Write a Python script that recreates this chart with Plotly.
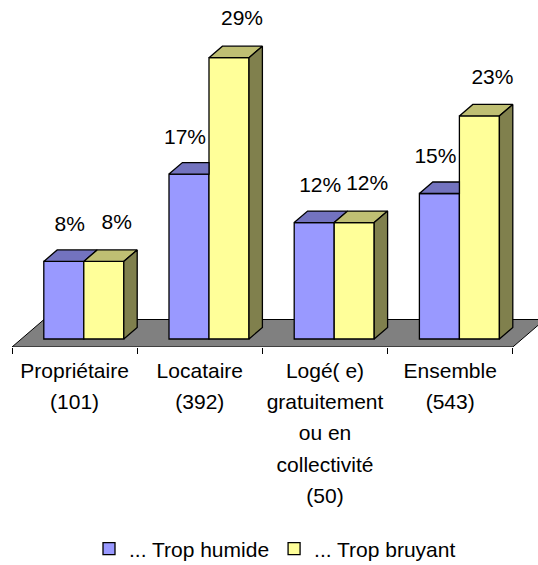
import plotly.graph_objects as go

# ---- data -------------------------------------------------------------
category_lines = [
    ["Propriétaire", "(101)"],
    ["Locataire", "(392)"],
    ["Logé( e)", "gratuitement", "ou en", "collectivité", "(50)"],
    ["Ensemble", "(543)"],
]
humide = [8, 17, 12, 15]
bruyant = [8, 29, 12, 23]
series_names = ["... Trop humide", "... Trop bruyant"]

# ---- colours (front, top, side) ---------------------------------------
BLUE = ("#9999FF", "#7373BF", "#4D4D80")
YELLOW = ("#FFFF99", "#BFBF73", "#80804D")
FLOOR = "#808080"
FONT = "Arial, Liberation Sans, sans-serif"

# ---- pseudo-3D geometry (axis units) ------------------------------------
PX_X = 125.2          # pixels per category slot
PX_Y = 9.7            # pixels per percentage point
W = 40 / PX_X         # bar width
SHIFT = 9.2 / PX_X    # bars sit mid-depth on the floor
DX = 13.4 / PX_X      # bar depth, horizontal
DY = 11.5 / PX_Y      # bar depth, vertical
FLOOR_FRONT = -8 / PX_Y
FLOOR_DX = 32 / PX_X
FLOOR_DY = 27.5 / PX_Y

WIDTH, HEIGHT = 538, 565
M_L, M_R, M_T, M_B = 12, 0, 0, 218
plot_w = WIDTH - M_L - M_R
plot_h = HEIGHT - M_T - M_B

n = len(category_lines)
centers = [i + SHIFT for i in range(n)]


def polys(list_of_pts):
    xs, ys = [], []
    for pts in list_of_pts:
        for x, y in pts + [pts[0]]:
            xs.append(x)
            ys.append(y)
        xs.append(None)
        ys.append(None)
    return xs, ys


def face_trace(list_of_pts, color):
    xs, ys = polys(list_of_pts)
    return go.Scatter(
        x=xs, y=ys, mode="lines", fill="toself", fillcolor=color,
        line=dict(color="black", width=1.3), showlegend=False,
        hoverinfo="skip",
    )


fig = go.Figure()

# front faces
fig.add_trace(go.Bar(
    x=centers, y=humide, width=W, offset=-W, name=series_names[0],
    marker=dict(color=BLUE[0], line=dict(color="black", width=1.3)),
))
fig.add_trace(go.Bar(
    x=centers, y=bruyant, width=W, offset=0, name=series_names[1],
    marker=dict(color=YELLOW[0], line=dict(color="black", width=1.3)),
))

# top faces of the blue bars (cut where the taller yellow bar hides them)
blue_tops = []
for c, v, other in zip(centers, humide, bruyant):
    x0, x1 = c - W, c
    if other > v:
        blue_tops.append([(x0, v), (x1, v), (x1, v + DY), (x0 + DX, v + DY)])
    else:
        blue_tops.append([(x0, v), (x1, v), (x1 + DX, v + DY), (x0 + DX, v + DY)])
fig.add_trace(face_trace(blue_tops, BLUE[1]))

# top and side faces of the yellow bars
yellow_tops, yellow_sides = [], []
for c, v in zip(centers, bruyant):
    x0, x1 = c, c + W
    yellow_tops.append([(x0, v), (x1, v), (x1 + DX, v + DY), (x0 + DX, v + DY)])
    yellow_sides.append([(x1, 0), (x1 + DX, DY), (x1 + DX, v + DY), (x1, v)])
fig.add_trace(face_trace(yellow_tops, YELLOW[1]))
fig.add_trace(face_trace(yellow_sides, YELLOW[2]))

# value labels
blue_lx = [c - W / 2 + ((-4 if o > v else 6) / PX_X)
           for c, v, o in zip(centers, humide, bruyant)]
blue_ly = [v + DY + 24 / PX_Y for v in humide]
yel_lx = [c + W / 2 + 13 / PX_X for c in centers]
yel_ly = [v + DY + 26 / PX_Y for v in bruyant]
for lx, ly, vals in ((blue_lx, blue_ly, humide), (yel_lx, yel_ly, bruyant)):
    fig.add_trace(go.Scatter(
        x=lx, y=ly, mode="text", text=[f"{v}%" for v in vals],
        textposition="middle center",
        textfont=dict(family=FONT, size=21, color="black"),
        showlegend=False, hoverinfo="skip", cliponaxis=False,
    ))

# floor of the 3D plot area
fx0, fx1 = -0.5, n - 0.5
floor_path = (
    f"M {fx0},{FLOOR_FRONT} L {fx1},{FLOOR_FRONT} "
    f"L {fx1 + FLOOR_DX},{FLOOR_FRONT + FLOOR_DY} "
    f"L {fx0 + FLOOR_DX},{FLOOR_FRONT + FLOOR_DY} Z"
)
fig.add_shape(type="path", path=floor_path, xref="x", yref="y",
              fillcolor=FLOOR, line=dict(color="black", width=1),
              layer="below")

ticktext = ["<br>".join(f'<span style="font-size:21px">{t}</span>' for t in lines)
            for lines in category_lines]

fig.update_layout(
    template="none",
    width=WIDTH, height=HEIGHT,
    margin=dict(l=M_L, r=M_R, t=M_T, b=M_B, autoexpand=False),
    paper_bgcolor="white", plot_bgcolor="rgba(0,0,0,0)",
    barmode="overlay",
    font=dict(family=FONT, color="black", size=21),
    xaxis=dict(
        range=[-0.5, -0.5 + plot_w / PX_X],
        tickmode="array", tickvals=list(range(n)), ticktext=ticktext,
        tickfont=dict(family=FONT, size=24, color="black"),
        ticks="", showgrid=False, zeroline=False, showline=False,
        ticklabelstandoff=6, automargin=False,
        minor=dict(ticks="outside", ticklen=6, tickcolor="black",
                   tickwidth=1, tick0=-0.5, dtick=1, showgrid=False),
    ),
    yaxis=dict(
        range=[FLOOR_FRONT, FLOOR_FRONT + plot_h / PX_Y],
        visible=False, showgrid=False, zeroline=False, automargin=False,
    ),
    legend=dict(
        orientation="h", x=0.5, xanchor="center",
        y=-(549 - plot_h) / plot_h, yanchor="middle",
        font=dict(family=FONT, size=21, color="black"),
        bgcolor="rgba(0,0,0,0)", traceorder="normal",
    ),
    showlegend=True,
)

fig.write_html("out.html")
